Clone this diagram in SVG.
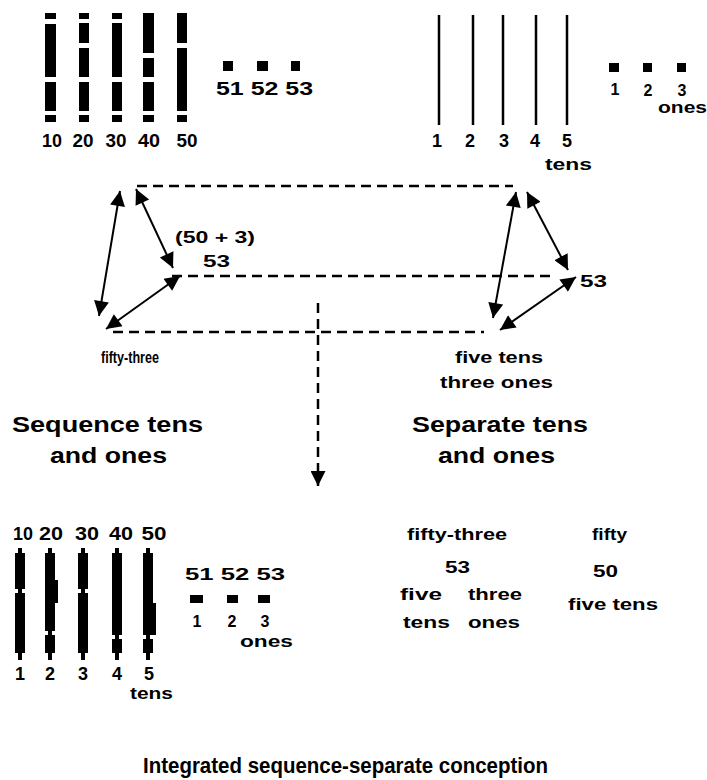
<svg xmlns="http://www.w3.org/2000/svg" width="707" height="780" viewBox="0 0 707 780">
<style>
text{font-family:"Liberation Sans",Arial,sans-serif;fill:#000}
.n{font-size:18px;font-weight:bold}
.s{font-size:16px;font-weight:bold}
.b{font-size:22px;font-weight:bold}
.c{text-anchor:middle}
.dash{stroke:#000;stroke-width:2.5;stroke-dasharray:10 6;fill:none}
.ln{stroke:#000;stroke-width:2;fill:none}
.tl{stroke:#000;stroke-width:2.5}
</style>
<defs>
<marker id="ah" viewBox="0 0 10 10" refX="10" refY="5" markerWidth="18" markerHeight="15" markerUnits="userSpaceOnUse" orient="auto-start-reverse"><path d="M0,0 L10,5 L0,10 z" fill="#000"/></marker>
</defs>
<rect width="707" height="780" fill="#fff"/>

<g id="top-left-bars">
<rect x="45" y="13" width="11" height="6"/><rect x="45" y="24" width="11" height="53"/><rect x="45" y="82" width="11" height="29"/><rect x="45" y="115" width="11" height="7"/>
<rect x="79" y="13" width="10" height="6"/><rect x="79" y="23" width="10" height="20"/><rect x="79" y="48" width="10" height="29"/><rect x="79" y="82" width="10" height="29"/><rect x="79" y="115" width="10" height="7"/>
<rect x="112" y="13" width="10" height="6"/><rect x="112" y="23" width="10" height="54"/><rect x="112" y="82" width="10" height="29"/><rect x="112" y="115" width="10" height="7"/>
<rect x="143" y="13" width="11" height="40"/><rect x="143" y="58" width="11" height="19"/><rect x="143" y="82" width="11" height="29"/><rect x="143" y="115" width="11" height="7"/>
<rect x="177" y="13" width="10" height="30"/><rect x="177" y="48" width="10" height="63"/><rect x="177" y="115" width="10" height="7"/>
<text class="n c" x="52" y="147" textLength="20" lengthAdjust="spacingAndGlyphs">10</text>
<text class="n c" x="83" y="147" textLength="21" lengthAdjust="spacingAndGlyphs">20</text>
<text class="n c" x="116" y="147" textLength="21" lengthAdjust="spacingAndGlyphs">30</text>
<text class="n c" x="149" y="147" textLength="22" lengthAdjust="spacingAndGlyphs">40</text>
<text class="n c" x="187" y="147" textLength="21" lengthAdjust="spacingAndGlyphs">50</text>
</g>

<g id="top-left-ones">
<rect x="223" y="61" width="10" height="10"/><rect x="257" y="61" width="11" height="10"/><rect x="291" y="61" width="9" height="10"/>
<text class="n" x="216" y="95" textLength="97" lengthAdjust="spacingAndGlyphs">51 52 53</text>
</g>

<g id="top-right-tens">
<line class="tl" x1="439" y1="15" x2="439" y2="125"/>
<line class="tl" x1="473" y1="15" x2="473" y2="125"/>
<line class="tl" x1="503" y1="15" x2="503" y2="125"/>
<line class="tl" x1="536" y1="15" x2="536" y2="125"/>
<line class="tl" x1="567" y1="15" x2="567" y2="125"/>
<text class="n c" x="437" y="147">1</text>
<text class="n c" x="470" y="147">2</text>
<text class="n c" x="504" y="147">3</text>
<text class="n c" x="535" y="147">4</text>
<text class="n c" x="567" y="147">5</text>
<text class="s" x="545" y="170" textLength="47" lengthAdjust="spacingAndGlyphs">tens</text>
</g>

<g id="top-right-ones">
<rect x="609" y="63" width="10" height="9"/><rect x="643" y="63" width="9" height="9"/><rect x="677" y="63" width="9" height="9"/>
<text class="s c" x="615" y="95">1</text>
<text class="s c" x="648" y="96">2</text>
<text class="s c" x="682" y="96">3</text>
<text class="s" x="658" y="113" textLength="49" lengthAdjust="spacingAndGlyphs">ones</text>
</g>

<g id="connectors">
<line class="dash" x1="137" y1="186" x2="513" y2="186"/>
<line class="dash" x1="172" y1="276" x2="556" y2="276"/>
<line class="dash" x1="113" y1="332" x2="484" y2="332"/>
<line class="dash" x1="318" y1="303" x2="318" y2="486" marker-end="url(#ah)"/>
<line class="ln" x1="120" y1="191" x2="99" y2="316" marker-start="url(#ah)" marker-end="url(#ah)"/>
<line class="ln" x1="136" y1="189" x2="173" y2="268" marker-start="url(#ah)" marker-end="url(#ah)"/>
<line class="ln" x1="106" y1="329" x2="180" y2="276" marker-start="url(#ah)" marker-end="url(#ah)"/>
<line class="ln" x1="516" y1="192" x2="493" y2="318" marker-start="url(#ah)" marker-end="url(#ah)"/>
<line class="ln" x1="527" y1="192" x2="568" y2="270" marker-start="url(#ah)" marker-end="url(#ah)"/>
<line class="ln" x1="500" y1="330" x2="576" y2="277" marker-start="url(#ah)" marker-end="url(#ah)"/>
</g>

<g id="sequence-labels">
<text class="s" x="175" y="243" textLength="80" lengthAdjust="spacingAndGlyphs">(50 + 3)</text>
<text class="s" x="203" y="267" textLength="27" lengthAdjust="spacingAndGlyphs">53</text>
<text class="s" x="101" y="363" textLength="58" lengthAdjust="spacingAndGlyphs">fifty-three</text>
<text class="b" x="12" y="432" textLength="191" lengthAdjust="spacingAndGlyphs">Sequence tens</text>
<text class="b" x="50" y="463" textLength="117" lengthAdjust="spacingAndGlyphs">and ones</text>
</g>

<g id="separate-labels">
<text class="s" x="580" y="287" textLength="27" lengthAdjust="spacingAndGlyphs">53</text>
<text class="s" x="455" y="363" textLength="88" lengthAdjust="spacingAndGlyphs">five tens</text>
<text class="s" x="440" y="388" textLength="113" lengthAdjust="spacingAndGlyphs">three ones</text>
<text class="b" x="412" y="432" textLength="176" lengthAdjust="spacingAndGlyphs">Separate tens</text>
<text class="b" x="438" y="463" textLength="117" lengthAdjust="spacingAndGlyphs">and ones</text>
</g>

<g id="bottom-left-bars">
<text class="n c" x="23" y="540" textLength="20" lengthAdjust="spacingAndGlyphs">10</text>
<text class="n c" x="51" y="540" textLength="24" lengthAdjust="spacingAndGlyphs">20</text>
<text class="n c" x="87" y="540" textLength="24" lengthAdjust="spacingAndGlyphs">30</text>
<text class="n c" x="121" y="540" textLength="24" lengthAdjust="spacingAndGlyphs">40</text>
<text class="n c" x="154" y="540" textLength="25" lengthAdjust="spacingAndGlyphs">50</text>
<g>
<rect x="18" y="548" width="4" height="112"/><rect x="15" y="553" width="10" height="36"/><rect x="15" y="593" width="10" height="60"/>
<rect x="48" y="548" width="4" height="112"/><rect x="45" y="553" width="10" height="78"/><rect x="55" y="580" width="3" height="23"/><rect x="45" y="635" width="10" height="18"/>
<rect x="81" y="548" width="4" height="112"/><rect x="78" y="553" width="10" height="36"/><rect x="78" y="593" width="10" height="60"/>
<rect x="115" y="548" width="4" height="112"/><rect x="112" y="553" width="10" height="82"/><rect x="112" y="639" width="10" height="14"/>
<rect x="146" y="548" width="4" height="112"/><rect x="143" y="553" width="10" height="82"/><rect x="153" y="603" width="3" height="32"/><rect x="143" y="639" width="10" height="14"/>
</g>
<text class="n c" x="20" y="680">1</text>
<text class="n c" x="50" y="680">2</text>
<text class="n c" x="83" y="680">3</text>
<text class="n c" x="117" y="680">4</text>
<text class="n c" x="149" y="680">5</text>
<text class="s" x="130" y="699" textLength="43" lengthAdjust="spacingAndGlyphs">tens</text>
</g>

<g id="bottom-left-ones">
<text class="s" x="185" y="580" textLength="100" lengthAdjust="spacingAndGlyphs">51 52 53</text>
<rect x="190" y="595" width="13" height="8"/><rect x="227" y="595" width="11" height="8"/><rect x="258" y="595" width="12" height="8"/>
<text class="s c" x="197" y="627">1</text>
<text class="s c" x="232" y="627">2</text>
<text class="s c" x="265" y="627">3</text>
<text class="s" x="240" y="647" textLength="53" lengthAdjust="spacingAndGlyphs">ones</text>
</g>

<g id="bottom-right-53">
<text class="s" x="407" y="540" textLength="100" lengthAdjust="spacingAndGlyphs">fifty-three</text>
<text class="s" x="445" y="573" textLength="25" lengthAdjust="spacingAndGlyphs">53</text>
<text class="s" x="400" y="600" textLength="42" lengthAdjust="spacingAndGlyphs">five</text>
<text class="s" x="468" y="600" textLength="54" lengthAdjust="spacingAndGlyphs">three</text>
<text class="s" x="403" y="628" textLength="47" lengthAdjust="spacingAndGlyphs">tens</text>
<text class="s" x="468" y="628" textLength="52" lengthAdjust="spacingAndGlyphs">ones</text>
</g>

<g id="bottom-right-50">
<text class="s" x="592" y="540" textLength="35" lengthAdjust="spacingAndGlyphs">fifty</text>
<text class="s" x="593" y="577" textLength="25" lengthAdjust="spacingAndGlyphs">50</text>
<text class="s" x="568" y="610" textLength="90" lengthAdjust="spacingAndGlyphs">five tens</text>
</g>

<g id="title">
<text class="b" x="143" y="773" textLength="405" lengthAdjust="spacingAndGlyphs">Integrated sequence-separate conception</text>
</g>
</svg>
